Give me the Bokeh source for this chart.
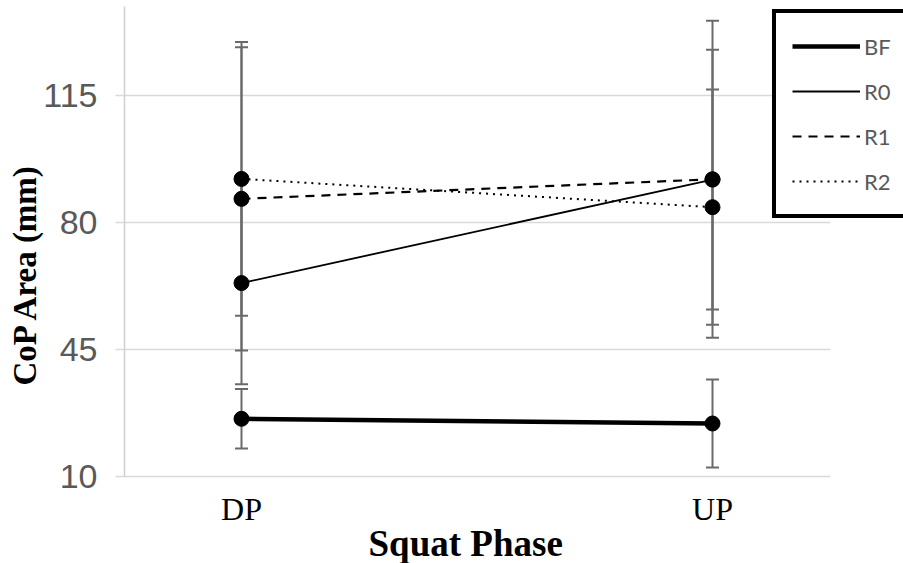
from bokeh.plotting import figure
from bokeh.models import (ColumnDataSource, Range1d, FixedTicker, Whisker, TeeHead,
                          Legend, LegendItem, Title)
from bokeh.embed import file_html
from bokeh.resources import INLINE

# Centre-of-pressure area by squat phase (mean and SD)
phases = ["DP", "UP"]
phase_x = [1, 2]
bf_mean = [25.9, 24.6]
bf_sd = [8.2, 12.1]
r0_mean = [63.3, 91.8]
r0_sd = [27.9, 35.8]
r1_mean = [86.5, 91.9]
r1_sd = [41.8, 43.7]
r2_mean = [92.0, 84.2]
r2_sd = [37.7, 32.4]
y_ticks = [10, 45, 80, 115]

# category axis spans 0.75..2.25; the frame runs on to the right so the
# legend box can sit over the plot's right edge
x_start, x_area_end, x_frame_end = 0.7516, 2.25, 2.4055

series = [
    ("BF", bf_mean, bf_sd, dict(line_width=4.5)),
    ("R0", r0_mean, r0_sd, dict(line_width=1.8)),
    ("R1", r1_mean, r1_sd, dict(line_width=2.2, line_dash="9 7")),
    ("R2", r2_mean, r2_sd, dict(line_width=2.0, line_dash="2 5")),
]

p = figure(width=903, height=563, output_backend="svg", toolbar_location=None,
           x_range=Range1d(x_start, x_frame_end), y_range=Range1d(10, 139.5),
           min_border_left=124, min_border_right=0, min_border_top=6,
           min_border_bottom=87)
p.outline_line_color = None
p.background_fill_color = "white"
p.border_fill_color = "white"

# grid
p.xgrid.grid_line_color = None
grid = p.ygrid[0]
grid.grid_line_color = "#d9d9d9"
grid.grid_line_width = 1.5
grid.ticker = FixedTicker(ticks=y_ticks)
grid.cross_bounds = (x_start, x_area_end)

# y axis
p.yaxis.ticker = FixedTicker(ticks=y_ticks)
p.yaxis.axis_line_color = "#cfcfcf"
p.yaxis.axis_line_width = 1.5
p.yaxis.major_tick_line_color = "#d9d9d9"
p.yaxis.major_tick_line_width = 1.5
p.yaxis.major_tick_out = 9
p.yaxis.major_tick_in = 0
p.yaxis.minor_tick_out = 0
p.yaxis.minor_tick_line_color = None
p.yaxis.major_label_text_font = "Liberation Sans"
p.yaxis.major_label_text_font_size = "34px"
p.yaxis.major_label_text_color = "#595959"
p.yaxis.major_label_standoff = 18

# x axis
p.xaxis.ticker = FixedTicker(ticks=phase_x)
p.xaxis.bounds = (x_start, x_area_end)
p.xaxis.major_label_overrides = {x: name for x, name in zip(phase_x, phases)}
p.xaxis.axis_line_color = "#d9d9d9"
p.xaxis.axis_line_width = 1.5
p.xaxis.major_tick_line_color = None
p.xaxis.minor_tick_line_color = None
p.xaxis.major_tick_out = 0
p.xaxis.minor_tick_out = 0
p.xaxis.major_label_text_font = "Liberation Serif"
p.xaxis.major_label_text_font_size = "32px"
p.xaxis.major_label_text_color = "black"
p.xaxis.major_label_standoff = 14

# axis titles as panel titles, placed along the plot area
p.add_layout(Title(text="Squat Phase", align="left", offset=244, standoff=-14,
                   vertical_align="top",
                   text_font="Liberation Serif", text_font_style="bold",
                   text_font_size="37px", text_color="black"), "below")
p.add_layout(Title(text="CoP Area (mm)", align="left", offset=91, standoff=-4,
                   text_font="Liberation Serif", text_font_style="bold",
                   text_font_size="33px", text_color="black"), "left")

err_color = "#6a6a6a"
for name, mean, sd, style in series:
    src = ColumnDataSource(dict(
        x=phase_x,
        upper=[m + s for m, s in zip(mean, sd)],
        lower=[m - s for m, s in zip(mean, sd)],
    ))
    w = Whisker(base="x", upper="upper", lower="lower", source=src,
                line_color=err_color, line_width=2,
                upper_head=TeeHead(size=13, line_color=err_color, line_width=2),
                lower_head=TeeHead(size=13, line_color=err_color, line_width=2))
    w.level = "underlay"
    p.add_layout(w)

legend_items = []
for name, mean, sd, style in series:
    src = ColumnDataSource(dict(x=phase_x, y=mean))
    ln = p.line("x", "y", source=src, line_color="black", **style)
    p.scatter("x", "y", source=src, size=15, fill_color="black", line_color="black")
    legend_items.append(LegendItem(label=name, renderers=[ln]))

legend = Legend(items=legend_items, location=(648, 258),
                border_line_color="black", border_line_width=4, border_line_alpha=1,
                background_fill_color="white", background_fill_alpha=1,
                label_text_font="Lato", label_text_font_size="22px",
                label_text_color="#595959", glyph_width=68, glyph_height=34,
                label_height=34, label_standoff=4, spacing=11, padding=16, margin=0)
p.add_layout(legend)

open("out.html", "w").write(file_html(p, INLINE))
